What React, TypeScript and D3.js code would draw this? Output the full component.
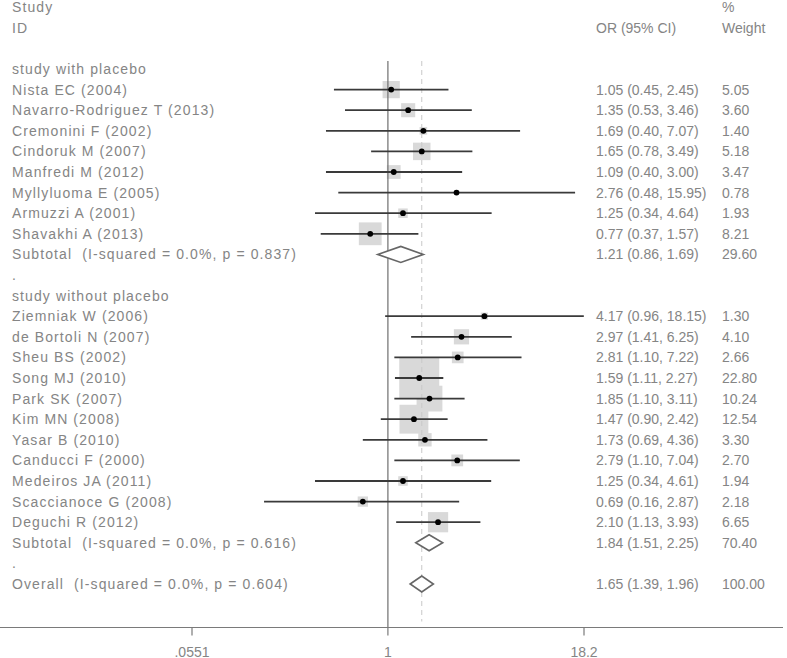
import React from "react";
import * as d3 from "d3";

const group1Label = "study with placebo";
const group1Studies = [
  "Nista EC (2004)",
  "Navarro-Rodriguez T (2013)",
  "Cremonini F (2002)",
  "Cindoruk M (2007)",
  "Manfredi M (2012)",
  "Myllyluoma E (2005)",
  "Armuzzi A (2001)",
  "Shavakhi A (2013)",
];
const group1OR = [1.05, 1.35, 1.69, 1.65, 1.09, 2.76, 1.25, 0.77];
const group1Lo = [0.45, 0.53, 0.4, 0.78, 0.4, 0.48, 0.34, 0.37];
const group1Hi = [2.45, 3.46, 7.07, 3.49, 3.0, 15.95, 4.64, 1.57];
const group1W = [5.05, 3.6, 1.4, 5.18, 3.47, 0.78, 1.93, 8.21];
const group1Sub = { label: "Subtotal  (I-squared = 0.0%, p = 0.837)", or: 1.21, lo: 0.86, hi: 1.69, w: 29.6 };

const group2Label = "study without placebo";
const group2Studies = [
  "Ziemniak W (2006)",
  "de Bortoli N (2007)",
  "Sheu BS (2002)",
  "Song MJ (2010)",
  "Park SK (2007)",
  "Kim MN (2008)",
  "Yasar B (2010)",
  "Canducci F (2000)",
  "Medeiros JA (2011)",
  "Scaccianoce G (2008)",
  "Deguchi R (2012)",
];
const group2OR = [4.17, 2.97, 2.81, 1.59, 1.85, 1.47, 1.73, 2.79, 1.25, 0.69, 2.1];
const group2Lo = [0.96, 1.41, 1.1, 1.11, 1.1, 0.9, 0.69, 1.1, 0.34, 0.16, 1.13];
const group2Hi = [18.15, 6.25, 7.22, 2.27, 3.11, 2.42, 4.36, 7.04, 4.61, 2.87, 3.93];
const group2W = [1.3, 4.1, 2.66, 22.8, 10.24, 12.54, 3.3, 2.7, 1.94, 2.18, 6.65];
const group2Sub = { label: "Subtotal  (I-squared = 0.0%, p = 0.616)", or: 1.84, lo: 1.51, hi: 2.25, w: 70.4 };

const overall = { label: "Overall  (I-squared = 0.0%, p = 0.604)", or: 1.65, lo: 1.39, hi: 1.96, w: 100.0 };

const tickValues = [0.0551, 1, 18.2];
const tickLabels = [".0551", "1", "18.2"];

type Row =
  | { kind: "label"; text: string }
  | { kind: "blank"; text: string }
  | { kind: "study"; text: string; or: number; lo: number; hi: number; w: number }
  | { kind: "sum"; text: string; or: number; lo: number; hi: number; w: number };

const rows: Row[] = [];
rows.push({ kind: "label", text: group1Label });
group1Studies.forEach((s, i) =>
  rows.push({ kind: "study", text: s, or: group1OR[i], lo: group1Lo[i], hi: group1Hi[i], w: group1W[i] })
);
rows.push({ kind: "sum", text: group1Sub.label, or: group1Sub.or, lo: group1Sub.lo, hi: group1Sub.hi, w: group1Sub.w });
rows.push({ kind: "blank", text: "." });
rows.push({ kind: "label", text: group2Label });
group2Studies.forEach((s, i) =>
  rows.push({ kind: "study", text: s, or: group2OR[i], lo: group2Lo[i], hi: group2Hi[i], w: group2W[i] })
);
rows.push({ kind: "sum", text: group2Sub.label, or: group2Sub.or, lo: group2Sub.lo, hi: group2Sub.hi, w: group2Sub.w });
rows.push({ kind: "blank", text: "." });
rows.push({ kind: "sum", text: overall.label, or: overall.or, lo: overall.lo, hi: overall.hi, w: overall.w });

const W = 787;
const H = 658;
const TXT = "#858585";
const FONT = "'Liberation Sans', Arial, sans-serif";

const fmt = (v: number) => v.toFixed(2);

export default function App() {
  const x = d3.scaleLog().domain([0.0551, 18.2]).range([192, 584]);
  const y = d3.scaleLinear().domain([0, 25]).range([69, 584]);
  const axisY = 627.5;
  const lineTop = 61;
  const colOR = 596;
  const colW = 722;
  const boxSide = (w: number) => Math.max(0, 9 * Math.sqrt(w) - 3);

  return (
    <svg
      width={W}
      height={H}
      viewBox={`0 0 ${W} ${H}`}
      style={{ position: "absolute", left: 0, top: 0, background: "#fff" }}
      fontFamily={FONT}
    >
      <rect x={0} y={0} width={W} height={H} fill="#fff" />
      {/* headers */}
      <g fill={TXT} fontSize={14} dominantBaseline="central">
        <text x={12} y={y(-3)} letterSpacing={1.1}>Study</text>
        <text x={12} y={y(-2)} letterSpacing={1.1}>ID</text>
        <text x={colOR} y={y(-2)}>OR (95% CI)</text>
        <text x={colW} y={y(-3)}>%</text>
        <text x={colW} y={y(-2)}>Weight</text>
      </g>

      {/* boxes */}
      <g>
        {rows.map((r, i) => {
          if (r.kind !== "study") return null;
          const s = boxSide(r.w);
          return (
            <rect
              key={"b" + i}
              x={x(r.or) - s / 2}
              y={y(i) - s / 2}
              width={s}
              height={s}
              fill="#d9d9d9"
            />
          );
        })}
      </g>

      {/* reference lines */}
      <line x1={x(1)} x2={x(1)} y1={lineTop} y2={axisY} stroke="#6e6e6e" strokeWidth={1.2} />
      <line
        x1={x(overall.or)}
        x2={x(overall.or)}
        y1={lineTop}
        y2={axisY - 6}
        stroke="#c8c8c8"
        strokeWidth={1}
        strokeDasharray="5,4"
      />

      {/* CIs and points */}
      <g>
        {rows.map((r, i) => {
          if (r.kind !== "study") return null;
          return (
            <g key={"c" + i}>
              <line x1={x(r.lo)} x2={x(r.hi)} y1={y(i)} y2={y(i)} stroke="#3a3a3a" strokeWidth={1.8} />
              <circle cx={x(r.or)} cy={y(i)} r={2.9} fill="#000" />
            </g>
          );
        })}
      </g>

      {/* diamonds */}
      <g>
        {rows.map((r, i) => {
          if (r.kind !== "sum") return null;
          const yy = y(i);
          const h = 8;
          const pts = [
            [x(r.lo), yy],
            [x(r.or), yy - h],
            [x(r.hi), yy],
            [x(r.or), yy + h],
          ]
            .map((p) => p.join(","))
            .join(" ");
          return <polygon key={"d" + i} points={pts} fill="#fff" stroke="#666" strokeWidth={1.6} />;
        })}
      </g>

      {/* row text */}
      <g fill={TXT} fontSize={14} dominantBaseline="central">
        {rows.map((r, i) => (
          <g key={"t" + i}>
            <text x={12} y={y(i)} letterSpacing={1.1} style={{ whiteSpace: "pre" }}>
              {r.text}
            </text>
            {(r.kind === "study" || r.kind === "sum") && (
              <>
                <text x={colOR} y={y(i)}>{`${fmt(r.or)} (${fmt(r.lo)}, ${fmt(r.hi)})`}</text>
                <text x={colW} y={y(i)}>{fmt(r.w)}</text>
              </>
            )}
          </g>
        ))}
      </g>

      {/* axis */}
      <line x1={0} x2={783} y1={axisY} y2={axisY} stroke="#7a7a7a" strokeWidth={1.2} />
      {tickValues.map((t, i) => (
        <g key={"k" + i}>
          <line x1={x(t)} x2={x(t)} y1={axisY} y2={axisY + 8} stroke="#7a7a7a" strokeWidth={1.2} />
          <text
            x={x(t)}
            y={axisY + 24}
            textAnchor="middle"
            dominantBaseline="central"
            fontSize={14}
            fill={TXT}
          >
            {tickLabels[i]}
          </text>
        </g>
      ))}
    </svg>
  );
}
